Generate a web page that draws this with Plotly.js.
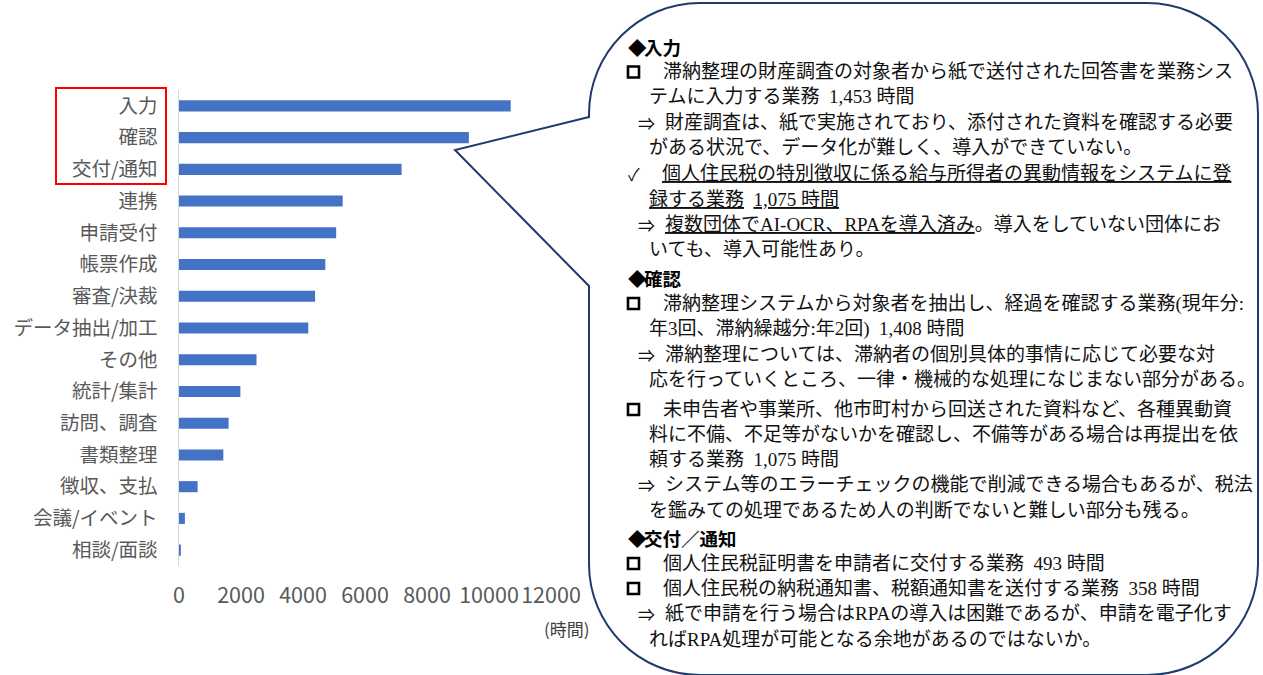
<!DOCTYPE html>
<html><head><meta charset="utf-8">
<script src="https://cdn.plot.ly/plotly-3.0.1.min.js"></script>
<style>html,body{margin:0;padding:0;background:#fff}</style>
</head><body><div id="chart" style="width:1263px;height:675px"></div>
<script>
// ---- data ----
const categories = ['入力','確認','交付/通知','連携','申請受付','帳票作成','審査/決裁','データ抽出/加工','その他','統計/集計','訪問、調査','書類整理','徴収、支払','会議/イベント','相談/面談'];
const hours = [10700, 9350, 7180, 5280, 5070, 4720, 4390, 4170, 2500, 1980, 1600, 1430, 600, 190, 60];
const xTicks = [0, 2000, 4000, 6000, 8000, 10000, 12000];
const unitLabel = '(時間)';

// callout text: bullet kind + text
const calloutBullets = ['◆','□','','⇒','','✓','','⇒','','◆','□','','⇒','','□','','','⇒','','◆','□','□','⇒',''];
const calloutTexts = [
  '入力',
  '滞納整理の財産調査の対象者から紙で送付された回答書を業務シス',
  'テムに入力する業務\u00a0\u00a01,453 時間',
  '財産調査は、紙で実施されており、添付された資料を確認する必要',
  'がある状況で、データ化が難しく、導入ができていない。',
  '<u>個人住民税の特別徴収に係る給与所得者の異動情報をシステムに登</u>',
  '<u>録する業務</u>\u00a0\u00a0<u>1,075 時間</u>',
  '<u>複数団体でAI-OCR、RPAを導入済み</u>。導入をしていない団体にお',
  'いても、導入可能性あり。',
  '確認',
  '滞納整理システムから対象者を抽出し、経過を確認する業務(現年分:',
  '年3回、滞納繰越分:年2回)\u00a0\u00a01,408 時間',
  '滞納整理については、滞納者の個別具体的事情に応じて必要な対',
  '応を行っていくところ、一律・機械的な処理になじまない部分がある。',
  '未申告者や事業所、他市町村から回送された資料など、各種異動資',
  '料に不備、不足等がないかを確認し、不備等がある場合は再提出を依',
  '頼する業務\u00a0\u00a01,075 時間',
  'システム等のエラーチェックの機能で削減できる場合もあるが、税法',
  'を鑑みての処理であるため人の判断でないと難しい部分も残る。',
  '交付／通知',
  '個人住民税証明書を申請者に交付する業務\u00a0\u00a0493 時間',
  '個人住民税の納税通知書、税額通知書を送付する業務\u00a0\u00a0358 時間',
  '紙で申請を行う場合はRPAの導入は困難であるが、申請を電子化す',
  'ればRPA処理が可能となる余地があるのではないか。'
];

// ---- layout geometry (pixels) ----
const W = 1263, H = 675, ML = 179, MR = 712, MT = 90, MB = 109;
const PW = W - ML - MR, PH = H - MT - MB;
const px = p => (p - ML) / PW;
const py = p => (H - MB - p) / PH;

const lineY = [47,72,97,122,147.5,173.5,199,224,249,277.5,303.5,329,354.5,379.5,409.5,434.5,459.5,485,510,537.5,563.5,588.5,613.5,639];
const textX = {'◆':642,'□':661,'⇒':663,'✓':660,'':647};
const bulletX = {'◆':626,'⇒':636,'✓':626};

const bodyFont = {family:"'Liberation Serif','Noto Sans CJK JP',serif", size:19, color:'#111'};
const headFont = {family:"'Noto Sans CJK JP',sans-serif", size:18.5, color:'#000', weight:700};

const annotations = [];
const shapes = [];
calloutTexts.forEach((t, i) => {
  const b = calloutBullets[i];
  const isHead = b === '◆';
  if (b === '□') {
    shapes.push({type:'rect', xref:'paper', yref:'paper', x0:px(628), x1:px(639), y0:py(lineY[i] - 5.5), y1:py(lineY[i] + 5.5),
      line:{color:'#000', width:2.6}, fillcolor:'rgba(255,255,255,1)', layer:'above'});
  } else if (b) {
    annotations.push({xref:'paper', yref:'paper', x:px(bulletX[b]), y:py(lineY[i]), xanchor:'left', yanchor:'middle',
      showarrow:false, text: isHead ? '<b>◆</b>' : b,
      font: isHead ? headFont : {family:"'Noto Sans CJK JP','DejaVu Sans'", size:17, color:'#111'}});
  }
  annotations.push({xref:'paper', yref:'paper', x:px(isHead ? textX['◆'] : textX[b]), y:py(lineY[i]), xanchor:'left', yanchor:'middle',
    showarrow:false, text: isHead ? '<b>' + t + '</b>' : t, font: isHead ? headFont : bodyFont});
});
annotations.push({xref:'paper', yref:'paper', x:px(592), y:py(628), xanchor:'right', yanchor:'middle', showarrow:false,
  text: unitLabel, font:{family:"'Noto Sans CJK JP'", size:17, color:'#404040'}});

// callout path (rounded rect with wedge)
const bx0 = 589, bx1 = 1258, by0 = 3, by1 = 675, r = 111, k = 0.5523 * r;
const P = (x, y) => px(x).toFixed(5) + ',' + py(y).toFixed(5);
const calloutPath = [
  'M' + P(bx0, 117), 'L' + P(455, 150), 'L' + P(bx0, 286),
  'L' + P(bx0, by1 - r),
  'C' + P(bx0, by1 - r + k) + ' ' + P(bx0 + r - k, by1) + ' ' + P(bx0 + r, by1),
  'L' + P(bx1 - r, by1),
  'C' + P(bx1 - r + k, by1) + ' ' + P(bx1, by1 - r + k) + ' ' + P(bx1, by1 - r),
  'L' + P(bx1, by0 + r),
  'C' + P(bx1, by0 + r - k) + ' ' + P(bx1 - r + k, by0) + ' ' + P(bx1 - r, by0),
  'L' + P(bx0 + r, by0),
  'C' + P(bx0 + r - k, by0) + ' ' + P(bx0, by0 + r - k) + ' ' + P(bx0, by0 + r),
  'Z'
].join(' ');

shapes.unshift(
  {type:'path', xref:'paper', yref:'paper', path: calloutPath, line:{color:'#1f3a6e', width:2}, fillcolor:'rgba(255,255,255,1)', layer:'above'},
  {type:'rect', xref:'paper', yref:'paper', x0:px(56), x1:px(166), y0:py(88), y1:py(184), line:{color:'#ff0000', width:2}}
);

const trace = {
  type:'bar', orientation:'h', x: hours, y: categories,
  marker:{color:'#4472C4'}, hoverinfo:'x+y'
};

const layout = {
  width:W, height:H, margin:{l:ML, r:MR, t:MT, b:MB},
  paper_bgcolor:'#fff', plot_bgcolor:'#fff', showlegend:false, bargap:0.65,
  xaxis:{range:[0,12000], tickvals:xTicks, ticktext:xTicks.map(String), showgrid:false, zeroline:false, showline:false,
    tickangle:0, ticks:'', ticklabelstandoff:14, tickfont:{family:"'Noto Sans CJK JP','Noto Sans',sans-serif", size:21.5, color:'#595959'}},
  yaxis:{type:'category', autorange:'reversed', showgrid:false, zeroline:false, showline:true, linecolor:'#d9d9d9', linewidth:1.5,
    ticks:'', ticklabelstandoff:16, tickfont:{family:"'Noto Sans CJK JP',sans-serif", size:19.5, color:'#595959'}},
  shapes: shapes, annotations: annotations
};

Plotly.newPlot('chart', [trace], layout, {displayModeBar:false, staticPlot:true});
</script>
</body></html>
